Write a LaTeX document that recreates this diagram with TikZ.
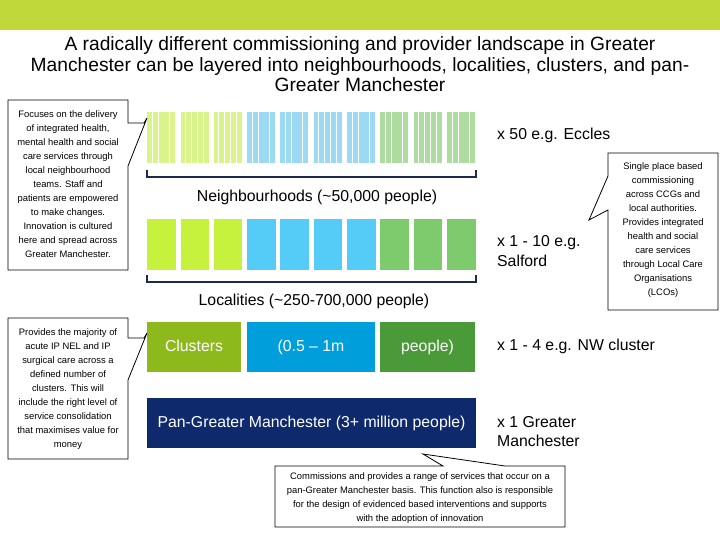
\documentclass[tikz,border=0pt]{standalone}
\usepackage{fontspec}
\setmainfont{Liberation Sans}
\definecolor{hdr}{HTML}{C0D83A}
\definecolor{slime}{HTML}{D8F48A}
\definecolor{sblue}{HTML}{9CDAF4}
\definecolor{sgreen}{HTML}{AEDBA0}
\definecolor{blime}{HTML}{C6F23E}
\definecolor{bblue}{HTML}{55CCF7}
\definecolor{bgreen}{HTML}{7DCB6D}
\definecolor{clime}{HTML}{8DB91C}
\definecolor{cblue}{HTML}{009FDB}
\definecolor{cgreen}{HTML}{4A9A3A}
\definecolor{navy}{HTML}{0E2A6C}
\definecolor{brk}{HTML}{1B2B4B}
\tikzset{
  calloutbox/.style={draw=black, fill=white, line width=0.8pt, line join=miter},
  callouttext/.style={font=\fontsize{9.4}{14}\selectfont, align=center, inner sep=0pt},
  bodytext/.style={font=\fontsize{15.8}{19.5}\selectfont, inner sep=0pt},
  sidetext/.style={bodytext, anchor=west, align=left},
  bracket/.style={draw=brk, line width=1.6pt},
  tier/.style={minimum height=50pt, inner sep=0pt, text=white, text height=11.5pt, text depth=3.5pt, font=\fontsize{15.8}{18}\selectfont}
}
\begin{document}
\begin{tikzpicture}[x=1pt,y=-1pt]
\useasboundingbox (0,0) rectangle (720,540);
\fill[hdr] (0,0) rectangle (720,30);
\node[font=\fontsize{19.2}{20.5}\selectfont, align=center, inner sep=0pt] (title) at (360,64.5)
  {A radically different commissioning and provider landscape in Greater\\Manchester can be layered into neighbourhoods, localities, clusters, and pan-\\Greater Manchester};

% neighbourhood stripes
\foreach \xx/\c in {147/slime,180.5/slime,213.5/slime,247/sblue,280/sblue,313.5/sblue,347/sblue,380/sgreen,413.5/sgreen,447/sgreen}{
  \foreach \k in {0,...,4}{
    \fill[\c] (\xx+\k*5.8,112) rectangle ++(4.9,51);
  }
}
\draw[bracket] (147,170) -- (147,177) -- (476,177) -- (476,170);
\node[bodytext] (nbh) at (317,197) {Neighbourhoods (\textasciitilde 50,000 people)};
\node[sidetext] (x50) at (497,135) {x 50 e.g. Eccles};

% localities
\foreach \xx/\c [count=\i] in {147/blime,180.5/blime,213.5/blime,247/bblue,280/bblue,313.5/bblue,347/bblue,380/bgreen,413.5/bgreen,447/bgreen}{
  \node[fill=\c, minimum width=28.5pt, minimum height=51pt, inner sep=0pt, anchor=north west] (loc\i) at (\xx,219) {};
}
\draw[bracket] (147,275) -- (147,282) -- (476,282) -- (476,275);
\node[bodytext] (loc) at (314,301) {Localities (\textasciitilde 250-700,000 people)};
\node[sidetext] (x10) at (497,251) {x 1 - 10 e.g.\\Salford};

% clusters
\node[tier, fill=clime, minimum width=94pt] (cl1) at (194,347) {Clusters};
\node[tier, fill=cblue, minimum width=128pt] (cl2) at (311,347) {(0.5 – 1m};
\node[tier, fill=cgreen, minimum width=95pt] (cl3) at (427.5,347) {people)};
\node[sidetext] (x4) at (497,346) {x 1 - 4 e.g. NW cluster};

% pan GM
\node[tier, fill=navy, minimum width=329pt] (pan) at (311.5,423) {Pan-Greater Manchester (3+ million people)};
\node[sidetext] (x1) at (497,431.5) {x 1 Greater\\Manchester};

% callouts
\draw[calloutbox] (8,100) -- (128,100) -- (128,123) -- (144,123) -- (147,118) -- (128,166) -- (128,270) -- (8,270) -- cycle;
\node[callouttext] (c1) at (68,184) {Focuses on the delivery\\of integrated health,\\mental health and social\\care services through\\local neighbourhood\\teams. Staff and\\patients are empowered\\to make changes.\\Innovation is cultured\\here and spread across\\Greater Manchester.};

\draw[calloutbox] (8,318) -- (128,318) -- (128,338) -- (144,338) -- (147,333) -- (128,380) -- (128,459) -- (8,459) -- cycle;
\node[callouttext] (c2) at (68,389.5) {Provides the majority of\\acute IP NEL and IP\\surgical care across a\\defined number of\\clusters. This will\\include the right level of\\service consolidation\\that maximises value for\\money};

\draw[calloutbox] (608,153) -- (608,176) -- (589,220) -- (608,210) -- (608,310) -- (718,310) -- (718,153) -- cycle;
\node[callouttext] (c3) at (663,230.5) {Single place based\\commissioning\\across CCGs and\\local authorities.\\Provides integrated\\health and social\\care services\\through Local Care\\Organisations\\(LCOs)};

\draw[calloutbox] (275,466) -- (443,466) -- (423,454) -- (505,466) -- (565,466) -- (565,527) -- (275,527) -- cycle;
\node[callouttext] (c4) at (420,498.5) {Commissions and provides a range of services that occur on a\\pan-Greater Manchester basis. This function also is responsible\\for the design of evidenced based interventions and supports\\with the adoption of innovation};
\end{tikzpicture}
\end{document}
